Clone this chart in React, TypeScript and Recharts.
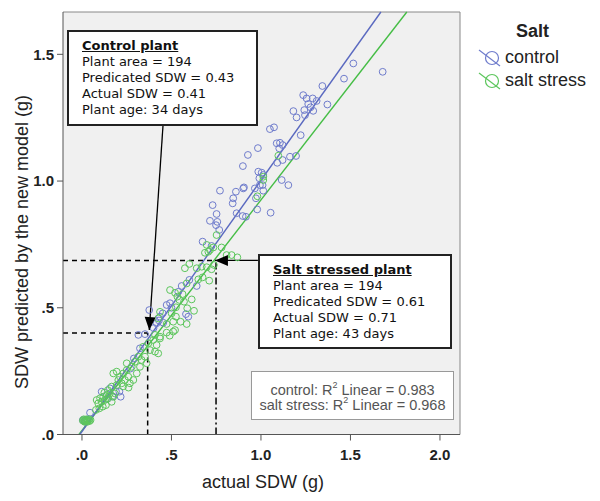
import React from 'react'
import { ScatterChart, Scatter, XAxis, YAxis, ReferenceLine, ReferenceDot, CartesianGrid } from 'recharts'

// actual SDW (g), predicted SDW (g)
const controlPoints: [number, number][] = [
  [1.68, 1.431], [1.516, 1.464], [1.464, 1.404], [1.343, 1.375], [1.371, 1.302],
  [1.236, 1.339], [1.255, 1.326], [1.289, 1.326], [1.311, 1.316], [1.264, 1.304],
  [1.277, 1.291], [1.242, 1.28], [1.292, 1.277], [1.246, 1.26], [1.181, 1.276],
  [1.199, 1.251], [1.222, 1.181], [1.073, 1.212], [1.05, 1.205], [1.088, 1.149],
  [1.106, 1.151], [1.121, 1.142], [1.102, 1.129], [1.091, 1.072], [1.121, 1.083],
  [1.162, 1.096], [1.196, 1.099], [1.004, 1.033], [0.991, 1.011], [1.009, 0.984],
  [0.966, 0.971], [1.013, 0.962], [0.905, 0.975], [0.86, 0.958], [0.845, 0.932],
  [0.842, 0.912], [0.864, 0.873], [0.898, 0.862], [0.916, 0.859], [0.972, 0.932],
  [0.979, 0.888], [1.054, 0.875], [1.116, 1.004], [1.153, 0.984], [0.985, 1.037],
  [1.013, 1.024], [0.771, 0.962], [0.901, 0.971], [0.994, 0.984], [0.73, 0.905],
  [0.752, 0.87], [0.715, 0.843], [0.756, 0.839], [0.749, 0.826], [0.767, 0.807],
  [0.674, 0.761], [0.724, 0.744], [0.927, 1.103], [0.983, 1.13], [0.899, 1.059],
  [0.376, 0.491], [0.473, 0.511], [0.492, 0.518], [0.557, 0.586], [0.641, 0.586],
  [0.594, 0.465], [0.581, 0.475], [0.315, 0.393], [0.352, 0.396], [0.436, 0.465],
  [0.451, 0.478], [0.417, 0.439], [0.454, 0.441], [0.538, 0.563], [0.324, 0.34],
  [0.4, 0.42], [0.43, 0.45], [0.5, 0.5], [0.6, 0.61], [0.29, 0.3],
  [0.27, 0.26], [0.209, 0.169], [0.216, 0.149], [0.045, 0.086], [0.11, 0.169],
  [0.156, 0.182], [0.19, 0.17], [0.17, 0.15], [0.14, 0.14], [0.005, 0.057],
  [0.015, 0.055], [0.03, 0.058], [0.02, 0.05],
]

const saltPoints: [number, number][] = [
  [1.097, 1.1], [1.013, 1.004], [1.013, 1.017], [0.98, 0.94], [0.836, 0.708],
  [0.868, 0.699], [0.687, 0.717], [0.715, 0.728], [0.734, 0.738], [0.78, 0.738],
  [0.808, 0.708], [0.752, 0.787], [0.697, 0.748], [0.706, 0.721], [0.575, 0.656],
  [0.6, 0.673], [0.641, 0.656], [0.669, 0.662], [0.697, 0.66], [0.724, 0.652],
  [0.737, 0.669], [0.711, 0.607], [0.65, 0.612], [0.674, 0.62], [0.585, 0.596],
  [0.492, 0.57], [0.52, 0.559], [0.533, 0.544], [0.562, 0.554], [0.544, 0.531],
  [0.57, 0.524], [0.613, 0.533], [0.626, 0.488], [0.588, 0.498], [0.525, 0.502],
  [0.501, 0.478], [0.525, 0.465], [0.51, 0.445], [0.551, 0.445], [0.585, 0.436],
  [0.473, 0.436], [0.436, 0.484], [0.426, 0.458], [0.473, 0.402], [0.52, 0.412],
  [0.436, 0.379], [0.408, 0.393], [0.38, 0.333], [0.408, 0.327], [0.417, 0.353],
  [0.398, 0.373], [0.436, 0.386], [0.49, 0.39], [0.51, 0.406], [0.426, 0.32],
  [0.371, 0.36], [0.342, 0.346], [0.175, 0.241], [0.194, 0.248], [0.212, 0.228],
  [0.231, 0.241], [0.25, 0.254], [0.203, 0.215], [0.222, 0.202], [0.24, 0.215],
  [0.259, 0.228], [0.268, 0.202], [0.194, 0.195], [0.166, 0.189], [0.25, 0.281],
  [0.278, 0.267], [0.296, 0.287], [0.306, 0.241], [0.324, 0.267], [0.287, 0.215],
  [0.333, 0.294], [0.352, 0.307], [0.315, 0.307], [0.361, 0.281], [0.082, 0.136],
  [0.101, 0.143], [0.119, 0.149], [0.11, 0.129], [0.091, 0.123], [0.128, 0.136],
  [0.138, 0.156], [0.156, 0.162], [0.147, 0.143], [0.166, 0.129], [0.175, 0.149],
  [0.184, 0.162], [0.134, 0.116], [0.116, 0.11], [0.097, 0.103], [0.078, 0.097],
  [0.145, 0.175], [0.125, 0.165], [0.23, 0.19], [0.26, 0.185], [0.005, 0.055],
  [0.012, 0.053], [0.02, 0.057], [0.028, 0.054], [0.035, 0.056], [0.042, 0.053],
  [0.048, 0.057], [0.01, 0.06], [0.025, 0.06], [0.04, 0.06], [0.03, 0.05],
  [0.015, 0.05],
]

const controlFit = { intercept: 0.012, slope: 0.991 }
const saltFit = { intercept: 0.0155, slope: 0.91 }

const xDomain = [-0.106, 2.112]
const yDomain = [0, 1.667]
const xTicks = [0, 0.5, 1, 1.5, 2]
const yTicks = [0, 0.5, 1, 1.5]

// highlighted plants (as drawn by the guide lines)
const controlPlant = { actual: 0.367, predicted: 0.4 }
const saltPlant = { actual: 0.749, predicted: 0.687 }
const controlArrow = { from: { x: 0.4525, y: 1.217 }, to: { x: 0.376, y: 0.412 } }
const saltArrow = { from: { x: 0.983, y: 0.687 }, to: { x: 0.743, y: 0.687 } }

const W = 600
const H = 501
const margin = { top: 12, right: 140, bottom: 26.5, left: 0 }
const plotW = W - 63 - margin.right
const plotH = H - margin.top - margin.bottom - 40
const pxPerX = plotW / (xDomain[1] - xDomain[0])
const pxPerY = plotH / (yDomain[1] - yDomain[0])

const BLUE = '#6f7ccc'
const BLUE_LINE = '#5a69c0'
const GREEN = '#5cc65c'
const GREEN_LINE = '#45bd45'

const toXY = (p: [number, number][]) => p.map(([x, y]) => ({ x, y }))

const fmt = (v: number) => (v < 1 ? '.' + Math.round(v * 10) : v.toFixed(1))

const ring = (color: string) => (props: any) => (
  <circle cx={props.cx} cy={props.cy} r={3.4} fill="none" stroke={color} strokeWidth={1} />
)

const arrowHead = (arrow: any) => (props: any) => {
  const dx = (arrow.to.x - arrow.from.x) * pxPerX
  const dy = -(arrow.to.y - arrow.from.y) * pxPerY
  const len = Math.hypot(dx, dy)
  const ux = dx / len
  const uy = dy / len
  const L = 13
  const w = 5.5
  const { cx, cy } = props
  const pts = [
    [cx, cy],
    [cx - L * ux - w * uy, cy - L * uy + w * ux],
    [cx - L * ux + w * uy, cy - L * uy - w * ux],
  ]
  return <polygon points={pts.map((p) => p.join(',')).join(' ')} fill="#000" />
}

const fitSegment = (fit: { intercept: number; slope: number }) => {
  const x0 = (yDomain[0] - fit.intercept) / fit.slope
  const x1 = (yDomain[1] - fit.intercept) / fit.slope
  return [
    { x: x0, y: yDomain[0] },
    { x: x1, y: yDomain[1] },
  ]
}

const boxText: React.CSSProperties = {
  position: 'absolute',
  background: '#fff',
  border: '2px solid #222',
  boxSizing: 'border-box',
  fontFamily: 'Verdana, "DejaVu Sans", sans-serif',
  fontSize: 13,
  lineHeight: '16px',
  color: '#111',
  padding: '6px 0 0 13px',
  whiteSpace: 'nowrap',
}

const arial = '"Liberation Sans", Arial, sans-serif'

const sup: React.CSSProperties = { fontSize: 9, lineHeight: 0, position: 'relative', top: -1, verticalAlign: 'super' }

export default function App() {
  return (
    <div style={{ position: 'absolute', left: 0, top: 0, width: W, height: H, background: '#fff' }}>
      <ScatterChart width={W} height={H} margin={margin}>
        <CartesianGrid horizontal={false} vertical={false} fill="#f0f0f0" />
        <XAxis
          type="number"
          dataKey="x"
          domain={xDomain}
          ticks={xTicks}
          tickFormatter={fmt}
          allowDataOverflow
          height={40}
          tickSize={6}
          tickMargin={9}
          stroke="#555"
          tick={{ fontFamily: arial, fontSize: 15, fontWeight: 'bold', fill: '#222' }}
        />
        <YAxis
          type="number"
          dataKey="y"
          domain={yDomain}
          ticks={yTicks}
          tickFormatter={fmt}
          allowDataOverflow
          width={63}
          tickSize={6}
          tickMargin={3}
          stroke="#555"
          tick={{ fontFamily: arial, fontSize: 15, fontWeight: 'bold', fill: '#222' }}
        />
        <ReferenceLine y={yDomain[1]} stroke="#888" />
        <ReferenceLine x={xDomain[1]} stroke="#888" />

        <ReferenceLine segment={[{ x: xDomain[0], y: controlPlant.predicted }, { x: controlPlant.actual, y: controlPlant.predicted }]} stroke="#000" strokeWidth={1.5} strokeDasharray="5 4" />
        <ReferenceLine segment={[{ x: controlPlant.actual, y: 0 }, { x: controlPlant.actual, y: controlPlant.predicted }]} stroke="#000" strokeWidth={1.5} strokeDasharray="5 4" />
        <ReferenceLine segment={[{ x: xDomain[0], y: saltPlant.predicted }, { x: saltPlant.actual, y: saltPlant.predicted }]} stroke="#000" strokeWidth={1.5} strokeDasharray="5 4" />
        <ReferenceLine segment={[{ x: saltPlant.actual, y: 0 }, { x: saltPlant.actual, y: saltPlant.predicted }]} stroke="#000" strokeWidth={1.5} strokeDasharray="7 3 2 3" />

        <Scatter name="control" data={toXY(controlPoints)} isAnimationActive={false} shape={ring(BLUE)} />
        <Scatter name="salt stress" data={toXY(saltPoints)} isAnimationActive={false} shape={ring(GREEN)} />

        <ReferenceLine segment={fitSegment(saltFit)} stroke={GREEN_LINE} strokeWidth={1.4} />
        <ReferenceLine segment={fitSegment(controlFit)} stroke={BLUE_LINE} strokeWidth={1.4} />

        <ReferenceLine segment={[controlArrow.from, controlArrow.to]} stroke="#000" strokeWidth={1.3} />
        <ReferenceDot x={controlArrow.to.x} y={controlArrow.to.y} shape={arrowHead(controlArrow)} />
        <ReferenceLine segment={[saltArrow.from, saltArrow.to]} stroke="#000" strokeWidth={1.3} />
        <ReferenceDot x={saltArrow.to.x} y={saltArrow.to.y} shape={arrowHead(saltArrow)} />
      </ScatterChart>

      <div style={{ ...boxText, left: 67, top: 30, width: 191, height: 96 }}>
        <div style={{ fontWeight: 'bold', textDecoration: 'underline' }}>Control plant</div>
        <div>Plant area = 194</div>
        <div>Predicated SDW = 0.43</div>
        <div>Actual SDW = 0.41</div>
        <div>Plant age: 34 days</div>
      </div>

      <div style={{ ...boxText, left: 258, top: 254, width: 194, height: 95 }}>
        <div style={{ fontWeight: 'bold', textDecoration: 'underline' }}>Salt stressed plant</div>
        <div>Plant area = 194</div>
        <div>Predicated SDW = 0.61</div>
        <div>Actual SDW = 0.71</div>
        <div>Plant age: 43 days</div>
      </div>

      <div
        style={{
          position: 'absolute', left: 251, top: 371, width: 203, height: 49, boxSizing: 'border-box',
          background: '#fff', border: '1.5px solid #999', fontFamily: arial, fontSize: 14.5,
          lineHeight: '15px', color: '#555', textAlign: 'center', paddingTop: 11, whiteSpace: 'nowrap',
        }}
      >
        <div>control: R<span style={sup}>2</span> Linear = 0.983</div>
        <div>salt stress: R<span style={sup}>2</span> Linear = 0.968</div>
      </div>

      <div style={{ position: 'absolute', left: 202, width: 120, top: 472, textAlign: 'center', fontFamily: arial, fontSize: 18, color: '#222', whiteSpace: 'nowrap' }}>
        actual SDW (g)
      </div>
      <div
        style={{
          position: 'absolute', left: 22 - 170, top: 242 - 11, width: 340, textAlign: 'center',
          transform: 'rotate(-90deg)', fontFamily: arial, fontSize: 18, lineHeight: '22px', color: '#222', whiteSpace: 'nowrap',
        }}
      >
        SDW predicted by the new model (g)
      </div>

      <div style={{ position: 'absolute', left: 478, top: 20, fontFamily: arial, fontSize: 18, color: '#222' }}>
        <div style={{ fontWeight: 'bold', marginLeft: 38, lineHeight: '22px' }}>Salt</div>
        {[
          { name: 'control', color: BLUE },
          { name: 'salt stress', color: GREEN },
        ].map((s, i) => (
          <div key={s.name} style={{ display: 'flex', alignItems: 'center', height: 23, marginTop: i === 0 ? 4 : 0 }}>
            <svg width={24} height={20} style={{ display: 'block' }}>
              <circle cx={14} cy={10} r={6.5} fill="none" stroke={s.color} strokeWidth={1.2} />
              <line x1={1} y1={2} x2={22} y2={18} stroke={s.color} strokeWidth={1.2} />
            </svg>
            <span style={{ marginLeft: 3 }}>{s.name}</span>
          </div>
        ))}
      </div>
    </div>
  )
}
